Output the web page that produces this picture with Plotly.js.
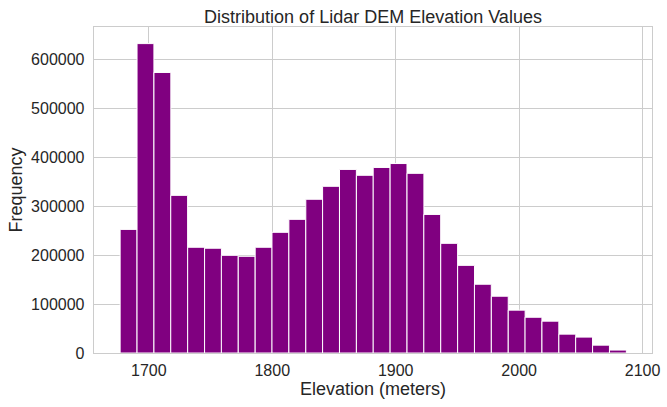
<!DOCTYPE html>
<html><head><meta charset="utf-8">
<script src="https://cdn.plot.ly/plotly-3.0.1.min.js"></script>
<style>html,body{margin:0;padding:0;background:#fff}</style></head>
<body><div id="c" style="width:667px;height:407px"></div>
<script>
const binCenters=[1683.6,1697.3,1711,1724.6,1738.3,1752,1765.6,1779.3,1793,1806.6,1820.3,1834,1847.6,1861.3,1875,1888.6,1902.3,1916,1929.6,1943.3,1957,1970.6,1984.3,1998,2011.6,2025.3,2039,2052.6,2066.3,2080];
const frequency=[252500,632000,573000,322000,216000,214000,199500,197500,216000,246500,273000,314000,340500,375000,363000,379000,387000,367000,283000,224000,179000,140500,116000,87500,73000,65000,38500,32500,16000,6000];
const binWidth=13.67;
const tickVals=[1700,1800,1900,2000,2100];
const yTicks=[0,100000,200000,300000,400000,500000,600000];
const textColor='#262626', gridColor='#cccccc', barColor='#800080';
const font='"Liberation Sans", Arial, sans-serif';
Plotly.newPlot('c',[{type:'bar',x:binCenters,y:frequency,width:binWidth,
  marker:{color:barColor,line:{color:'#ffffff',width:1}}}],{
  width:667,height:407,paper_bgcolor:'#fff',plot_bgcolor:'#fff',showlegend:false,
  margin:{l:93.5,r:15.3,t:27,b:53.7,pad:0},
  font:{family:font,color:textColor},
  title:{text:'Distribution of Lidar DEM Elevation Values',font:{size:18,color:textColor,family:font},x:0.5,xref:'paper',xanchor:'center',y:1,yref:'paper',yanchor:'bottom',pad:{b:4}},
  xaxis:{range:[1655.6,2107.6],tickmode:'array',tickvals:tickVals,ticktext:tickVals.map(String),
    showgrid:true,gridcolor:gridColor,gridwidth:1,zeroline:false,ticks:'',tickfont:{size:16,color:textColor},ticklabelstandoff:2,
    showline:true,linecolor:gridColor,linewidth:1.3,mirror:true,
    title:{text:'Elevation (meters)',font:{size:18,color:textColor},standoff:5}},
  yaxis:{range:[0,665900],tickmode:'array',tickvals:yTicks,ticktext:yTicks.map(String),
    showgrid:true,gridcolor:gridColor,gridwidth:1,zeroline:false,ticks:'',tickfont:{size:16,color:textColor},ticklabelstandoff:5,
    showline:true,linecolor:gridColor,linewidth:1.3,mirror:true,
    title:{text:'Frequency',font:{size:18,color:textColor},standoff:3}}
},{displayModeBar:false,staticPlot:true});
</script></body></html>
